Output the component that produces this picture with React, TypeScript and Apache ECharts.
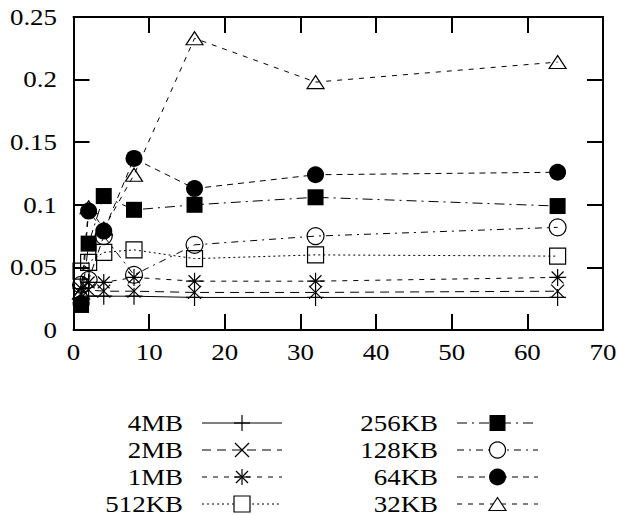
import React, { useEffect, useRef } from "react";
import * as echarts from "echarts";

const xValues = [1, 2, 4, 8, 16, 32, 64];
const mb4 = [0.024, 0.027, 0.027, 0.027, 0.026, 0.026, 0.026];
const mb2 = [0.029, 0.032, 0.031, 0.031, 0.030, 0.030, 0.031];
const mb1 = [0.033, 0.038, 0.038, 0.042, 0.039, 0.039, 0.042];
const kb512 = [0.047, 0.054, 0.062, 0.064, 0.057, 0.060, 0.059];
const kb256 = [0.020, 0.069, 0.107, 0.096, 0.100, 0.106, 0.099];
const kb128 = [0.036, 0.040, 0.075, 0.044, 0.068, 0.075, 0.082];
const kb64 = [0.021, 0.095, 0.079, 0.137, 0.113, 0.124, 0.126];
const kb32 = [0.030, 0.098, 0.081, 0.124, 0.233, 0.198, 0.214];

const xTicks = [0, 10, 20, 30, 40, 50, 60, 70];
const yTicks = [0, 0.05, 0.1, 0.15, 0.2, 0.25];
const yTickLabels = ["0", "0.05", "0.1", "0.15", "0.2", "0.25"];

const FONT = "Liberation Serif";
const FS = 23;
const SX = 1.17;

type Mark = "plus" | "cross" | "star" | "oSquare" | "fSquare" | "oCircle" | "fCircle" | "oTri";

const SYM: Record<Mark, { symbol: string; size: number | number[]; filled: boolean }> = {
  plus: { symbol: "path://M0,5 L10,5 M5,0 L5,10", size: 17, filled: false },
  cross: { symbol: "path://M0,0 L10,10 M10,0 L0,10", size: 13, filled: false },
  star: { symbol: "path://M0,5 L10,5 M5,0 L5,10 M1.5,1.5 L8.5,8.5 M8.5,1.5 L1.5,8.5", size: 17, filled: false },
  oSquare: { symbol: "path://M0,0 L10,0 L10,10 L0,10 Z", size: 16, filled: false },
  fSquare: { symbol: "rect", size: 16, filled: true },
  oCircle: { symbol: "path://M10,5 A5,5 0 1,1 0,5 A5,5 0 1,1 10,5 Z", size: 17, filled: false },
  fCircle: { symbol: "circle", size: 17, filled: true },
  oTri: { symbol: "path://M5,0 L10,8 L0,8 Z", size: [17, 13], filled: false },
};

const seriesDefs: { name: string; data: number[]; dash: number[] | "solid"; mark: Mark }[] = [
  { name: "4MB", data: mb4, dash: "solid", mark: "plus" },
  { name: "2MB", data: mb2, dash: [9, 6], mark: "cross" },
  { name: "1MB", data: mb1, dash: [5, 6], mark: "star" },
  { name: "512KB", data: kb512, dash: [2, 3], mark: "oSquare" },
  { name: "256KB", data: kb256, dash: [10, 5, 2, 5], mark: "fSquare" },
  { name: "128KB", data: kb128, dash: [7, 5, 2, 5], mark: "oCircle" },
  { name: "64KB", data: kb64, dash: [6, 5], mark: "fCircle" },
  { name: "32KB", data: kb32, dash: [5, 6], mark: "oTri" },
];

function legendMarker(mark: Mark, cx: number, cy: number): any[] {
  const st = { stroke: "#000", lineWidth: 1.2, fill: "none" };
  const r = 8;
  switch (mark) {
    case "plus":
      return [
        { type: "line", shape: { x1: cx - r, y1: cy, x2: cx + r, y2: cy }, style: st },
        { type: "line", shape: { x1: cx, y1: cy - r, x2: cx, y2: cy + r }, style: st },
      ];
    case "cross":
      return [
        { type: "line", shape: { x1: cx - 7, y1: cy - 7, x2: cx + 7, y2: cy + 7 }, style: st },
        { type: "line", shape: { x1: cx + 7, y1: cy - 7, x2: cx - 7, y2: cy + 7 }, style: st },
      ];
    case "star":
      return [
        { type: "line", shape: { x1: cx - r, y1: cy, x2: cx + r, y2: cy }, style: st },
        { type: "line", shape: { x1: cx, y1: cy - r, x2: cx, y2: cy + r }, style: st },
        { type: "line", shape: { x1: cx - 6, y1: cy - 6, x2: cx + 6, y2: cy + 6 }, style: st },
        { type: "line", shape: { x1: cx + 6, y1: cy - 6, x2: cx - 6, y2: cy + 6 }, style: st },
      ];
    case "oSquare":
      return [{ type: "rect", shape: { x: cx - 8, y: cy - 8, width: 16, height: 16 }, style: { ...st, fill: "#fff" } }];
    case "fSquare":
      return [{ type: "rect", shape: { x: cx - 8, y: cy - 8, width: 16, height: 16 }, style: { fill: "#000" } }];
    case "oCircle":
      return [{ type: "circle", shape: { cx, cy, r: 8 }, style: { ...st, fill: "#fff" } }];
    case "fCircle":
      return [{ type: "circle", shape: { cx, cy, r: 8.5 }, style: { fill: "#000" } }];
    case "oTri":
      return [
        {
          type: "polygon",
          shape: { points: [[cx, cy - 6.5], [cx + 8.5, cy + 6.5], [cx - 8.5, cy + 6.5]] },
          style: { ...st, fill: "#fff" },
        },
      ];
  }
}

function label(text: string, x: number, y: number, align: string): any {
  return {
    type: "text",
    x,
    y,
    scaleX: SX,
    style: { text, font: `${FS}px "${FONT}"`, fill: "#000", align, verticalAlign: "middle" },
  };
}

export default function App() {
  const ref = useRef<HTMLDivElement>(null);
  useEffect(() => {
    if (!ref.current) return;
    const chart = echarts.init(ref.current, undefined, { renderer: "svg" });

    const series = seriesDefs.map((d) => {
      const s = SYM[d.mark];
      return {
        name: d.name,
        type: "line",
        data: d.data.map((v, i) => [xValues[i], v]),
        symbol: s.symbol,
        symbolSize: s.size,
        showSymbol: true,
        lineStyle: { color: "#000", width: 1, type: d.dash },
        itemStyle: s.filled
          ? { color: "#000" }
          : { color: "rgba(0,0,0,0)", borderColor: "#000", borderWidth: 1.2 },
        emphasis: { disabled: true },
        z: 2,
      };
    });

    const lineSt = { lineStyle: { color: "#000", width: 2 } };
    const xAxisBase = {
      type: "value",
      min: xTicks[0],
      max: xTicks[xTicks.length - 1],
      interval: 10,
      axisLine: { show: true, onZero: false, ...lineSt },
      axisTick: { show: true, inside: true, length: 16, ...lineSt },
      axisLabel: { show: false },
      splitLine: { show: false },
    };
    const yAxisBase = {
      type: "value",
      min: yTicks[0],
      max: yTicks[yTicks.length - 1],
      interval: 0.05,
      axisLine: { show: true, onZero: false, ...lineSt },
      axisTick: { show: true, inside: true, length: 16, ...lineSt },
      axisLabel: { show: false },
      splitLine: { show: false },
    };

    chart.setOption({
      animation: false,
      backgroundColor: "#fff",
      grid: { left: 73.5, right: 15, top: 17, bottom: 185, containLabel: false },
      xAxis: [
        { ...xAxisBase, position: "bottom" },
        { ...xAxisBase, position: "top" },
      ],
      yAxis: [
        { ...yAxisBase, position: "left" },
        { ...yAxisBase, position: "right" },
      ],
      series,
    });

    const graphic: any[] = [];
    const origin = chart.convertToPixel({ gridIndex: 0 }, [0, 0]) as number[];
    xTicks.forEach((t) => {
      const p = chart.convertToPixel({ gridIndex: 0 }, [t, 0]) as number[];
      graphic.push(label(String(t), p[0], origin[1] + 22, "center"));
    });
    yTicks.forEach((t, i) => {
      const p = chart.convertToPixel({ gridIndex: 0 }, [0, t]) as number[];
      graphic.push(label(yTickLabels[i], origin[0] - 16.5, p[1], "right"));
    });

    const rows = [423, 450, 477, 504];
    seriesDefs.forEach((d, i) => {
      const col = i < 4 ? 0 : 1;
      const y = rows[i % 4];
      const textRight = col === 0 ? 183 : 438;
      const lx1 = col === 0 ? 202 : 457;
      const lx2 = col === 0 ? 282 : 538;
      graphic.push(label(d.name, textRight, y, "right"));
      graphic.push({
        type: "line",
        shape: { x1: lx1, y1: y, x2: lx2, y2: y },
        style: { stroke: "#000", lineWidth: 1, lineDash: d.dash === "solid" ? null : d.dash },
      });
      graphic.push(...legendMarker(d.mark, (lx1 + lx2) / 2, y));
    });

    chart.setOption({ graphic });
    return () => chart.dispose();
  }, []);
  return <div ref={ref} style={{ position: "fixed", left: 0, top: 0, width: 618, height: 515 }} />;
}
